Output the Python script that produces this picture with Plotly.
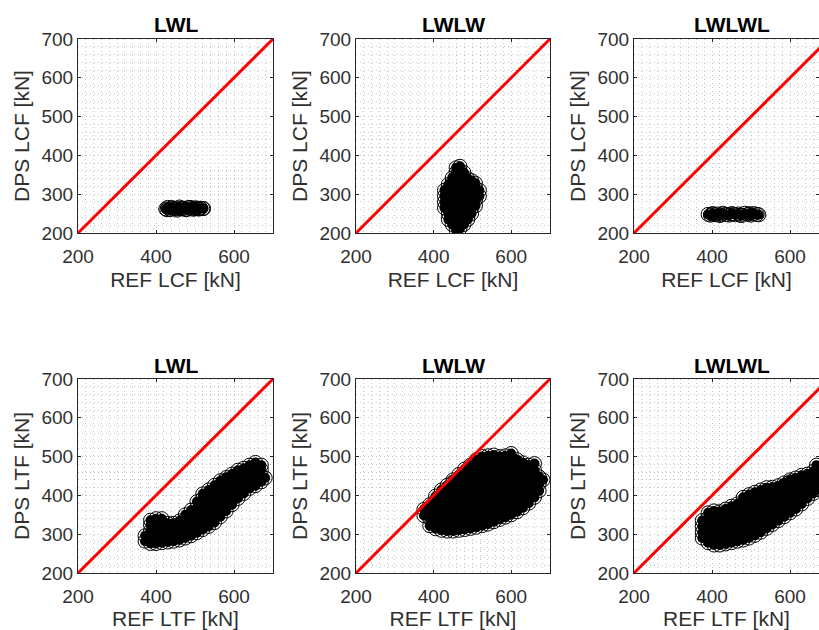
import plotly.graph_objects as go

# ---------------- data ----------------
AX_MIN, AX_MAX = 200, 700
X_TICKS = [200, 400, 600]
Y_TICKS = [200, 300, 400, 500, 600, 700]
TITLES = ["LWL", "LWLW", "LWLWL", "LWL", "LWLW", "LWLWL"]
X_LABELS = ["REF LCF [kN]", "REF LCF [kN]", "REF LCF [kN]",
            "REF LTF [kN]", "REF LTF [kN]", "REF LTF [kN]"]
Y_LABELS = ["DPS LCF [kN]", "DPS LCF [kN]", "DPS LCF [kN]",
            "DPS LTF [kN]", "DPS LTF [kN]", "DPS LTF [kN]"]
REF_LINE = [200, 700]   # y = x reference line end points

# Panel 1: LWL, LCF
LWL_LCF_X = [425, 430, 436, 442, 448, 454, 460, 466, 472, 478, 484, 490, 496,
             502, 508, 514, 520, 428, 440, 452, 464, 476, 488, 500, 512, 522]
LWL_LCF_Y = [262, 266, 260, 265, 263, 259, 267, 262, 264, 260, 266, 263, 261,
             265, 262, 264, 263, 260, 265, 262, 264, 261, 266, 263, 262, 263]

# Panel 2: LWLW, LCF  (x column -> y values)
LWLW_LCF = {
    428: [265, 280, 295, 310],
    438: [235, 250, 265, 280, 295, 310, 325],
    448: [222, 237, 252, 267, 282, 297, 312, 327, 342],
    458: [208, 222, 237, 252, 267, 282, 297, 312, 327, 342, 356, 368],
    468: [212, 225, 240, 255, 270, 285, 300, 315, 330, 345, 360, 372],
    478: [222, 237, 252, 267, 282, 297, 312, 327, 342, 356],
    488: [235, 250, 265, 280, 295, 310, 325, 340],
    498: [250, 265, 280, 295, 310, 325, 335],
    508: [270, 285, 300, 315, 328],
    518: [295, 310],
}

# Panel 3: LWLWL, LCF
LWLWL_LCF_X = [390, 396, 402, 408, 414, 420, 428, 436, 444, 452, 460, 468, 476,
               484, 492, 500, 508, 516, 520, 400, 424, 448, 472, 496]
LWLWL_LCF_Y = [248, 246, 250, 247, 249, 245, 251, 248, 246, 250, 247, 249, 245,
               251, 248, 246, 250, 248, 247, 249, 247, 249, 246, 250]

# Panel 4: LWL, LTF
LWL_LTF = {
    372: [282, 296],
    386: [276, 292, 308, 324, 336],
    400: [276, 292, 308, 324, 340],
    415: [278, 294, 310, 326, 340],
    430: [280, 296, 312, 328],
    445: [282, 298, 314, 328],
    460: [285, 300, 316, 334],
    475: [290, 306, 322, 338, 350],
    490: [296, 312, 328, 344, 362],
    505: [304, 320, 336, 352, 368, 384],
    520: [312, 328, 344, 360, 376, 392, 404],
    535: [320, 336, 352, 368, 384, 400, 414],
    550: [330, 346, 362, 378, 394, 410, 426],
    565: [345, 361, 377, 393, 409, 425, 438],
    580: [360, 376, 392, 408, 424, 440, 446],
    595: [376, 392, 408, 424, 440, 455],
    610: [392, 408, 424, 440, 456, 465],
    625: [405, 421, 437, 453, 470],
    640: [418, 434, 450, 466, 478],
    655: [425, 441, 457, 473, 485],
    670: [435, 450, 466, 478],
    680: [445],
}

# Panel 5: LWLW, LTF
LWLW_LTF = {
    375: [348, 364],
    390: [322, 340, 358, 376],
    405: [314, 332, 350, 368, 386, 398],
    420: [310, 328, 346, 364, 382, 400, 414],
    435: [308, 326, 344, 362, 380, 398, 416, 426],
    450: [308, 326, 344, 362, 380, 398, 416, 434, 440],
    465: [310, 328, 346, 364, 382, 400, 418, 436, 454],
    480: [312, 330, 348, 366, 384, 402, 420, 438, 456, 468],
    495: [315, 333, 351, 369, 387, 405, 423, 441, 459, 478],
    510: [318, 336, 354, 372, 390, 408, 426, 444, 462, 480, 492],
    525: [322, 340, 358, 376, 394, 412, 430, 448, 466, 484, 500],
    540: [326, 344, 362, 380, 398, 416, 434, 452, 470, 488, 502],
    555: [332, 350, 368, 386, 404, 422, 440, 458, 476, 494, 504],
    570: [338, 356, 374, 392, 410, 428, 446, 464, 482, 500],
    585: [344, 362, 380, 398, 416, 434, 452, 470, 488, 502],
    600: [350, 368, 386, 404, 422, 440, 458, 476, 494, 508],
    615: [358, 376, 394, 412, 430, 448, 466, 484, 492],
    630: [368, 386, 404, 422, 440, 458, 476, 484],
    645: [380, 398, 416, 434, 452, 470, 478],
    660: [395, 413, 431, 449, 465, 482],
    672: [412, 430, 448],
    682: [440],
}

# Panel 6: LWLWL, LTF
LWLWL_LTF = {
    375: [290, 305, 320, 335],
    390: [278, 294, 310, 326, 342, 355],
    405: [272, 288, 304, 320, 336, 352, 360],
    420: [272, 288, 304, 320, 336, 352, 358],
    435: [275, 291, 307, 323, 339, 355, 365],
    450: [278, 294, 310, 326, 342, 358, 372],
    465: [282, 298, 314, 330, 346, 362, 378],
    480: [285, 301, 317, 333, 349, 365, 381, 395],
    495: [290, 306, 322, 338, 354, 370, 386, 402],
    510: [297, 313, 329, 345, 361, 377, 393, 408],
    525: [305, 321, 337, 353, 369, 385, 401, 414],
    540: [315, 331, 347, 363, 379, 395, 411, 420],
    555: [325, 341, 357, 373, 389, 405, 421],
    570: [335, 351, 367, 383, 399, 415, 425],
    585: [345, 361, 377, 393, 409, 425, 432],
    600: [355, 371, 387, 403, 419, 435, 440],
    615: [365, 381, 397, 413, 429, 445],
    630: [378, 394, 410, 426, 442, 452],
    645: [392, 408, 424, 440, 455],
    660: [405, 420, 436, 452, 462],
    668: [478],
    672: [415, 430, 446, 462],
}


def cols_to_xy(cols):
    xs, ys = [], []
    for x, yl in cols.items():
        for y in yl:
            xs.append(x)
            ys.append(y)
    return xs, ys


PANELS = [
    (LWL_LCF_X, LWL_LCF_Y),
    cols_to_xy(LWLW_LCF),
    (LWLWL_LCF_X, LWLWL_LCF_Y),
    cols_to_xy(LWL_LTF),
    cols_to_xy(LWLW_LTF),
    cols_to_xy(LWLWL_LTF),
]

# ---------------- layout geometry (pixels) ----------------
W, H = 819, 630
COL_PX = [(78, 273), (356, 550), (634, 829)]   # third column is cut by the page edge
ROW_PX = [(39, 233), (379, 573)]
TITLE_Y_PX = [25, 365]

FONT = "Liberation Sans, Arial, sans-serif"
AXC = "#262626"
TXC = "#303030"
GRIDC = "#c4c4c4"

fig = go.Figure()
layout = dict(
    width=W, height=H,
    margin=dict(l=0, r=0, t=0, b=0, autoexpand=False),
    paper_bgcolor="white", plot_bgcolor="white",
    showlegend=False,
    font=dict(family=FONT, color=AXC),
    annotations=[],
)

for i in range(6):
    r, c = divmod(i, 3)
    xa = "x" if i == 0 else f"x{i+1}"
    ya = "y" if i == 0 else f"y{i+1}"
    x0p, x1p = COL_PX[c]
    y0p, y1p = ROW_PX[r]
    px_per_unit = (x1p - x0p) / (AX_MAX - AX_MIN)
    vis_x1 = min(x1p, W)
    xmax = AX_MIN + (vis_x1 - x0p) / px_per_unit
    xdom = [x0p / W, vis_x1 / W]
    ydom = [1 - y1p / H, 1 - y0p / H]

    xs, ys = PANELS[i]
    # dense cloud of hollow circles
    fig.add_trace(go.Scatter(
        x=xs, y=ys, mode="markers", xaxis=xa, yaxis=ya,
        marker=dict(symbol="circle", size=10, color="black", line=dict(width=0)),
        hoverinfo="skip"))
    fig.add_trace(go.Scatter(
        x=xs, y=ys, mode="markers", xaxis=xa, yaxis=ya,
        marker=dict(symbol="circle-open", size=14, color="black",
                    line=dict(width=1, color="black"))))
    # y = x reference line
    fig.add_trace(go.Scatter(
        x=REF_LINE, y=REF_LINE, mode="lines", xaxis=xa, yaxis=ya,
        line=dict(color="#ff0000", width=3)))

    common = dict(
        automargin=False,
        showline=True, linecolor=AXC, linewidth=1, mirror="ticks",
        ticks="inside", ticklen=3, tickwidth=1, tickcolor=AXC,
        showgrid=True, gridcolor=GRIDC, griddash="1px,3px", gridwidth=1,
        zeroline=False,
        tickfont=dict(family=FONT, size=19, color=TXC),
        minor=dict(dtick=20, showgrid=True, gridcolor=GRIDC,
                   griddash="1px,3px", gridwidth=1, ticks=""),
    )
    layout["xaxis" if i == 0 else f"xaxis{i+1}"] = dict(
        common, domain=xdom, range=[AX_MIN, xmax], tickvals=X_TICKS,
        anchor=ya, ticklabelstandoff=6,
        title=dict(text=X_LABELS[i], standoff=6,
                   font=dict(family=FONT, size=21, color=TXC)))
    layout["yaxis" if i == 0 else f"yaxis{i+1}"] = dict(
        common, domain=ydom, range=[AX_MIN, AX_MAX], tickvals=Y_TICKS,
        anchor=xa,
        title=dict(text=Y_LABELS[i], standoff=6,
                   font=dict(family=FONT, size=21, color=TXC)))
    layout["annotations"].append(dict(
        text=f"<b>{TITLES[i]}</b>", xref="paper", yref="paper",
        x=((x0p + x1p) / 2) / W, y=1 - TITLE_Y_PX[r] / H,
        xanchor="center", yanchor="middle", showarrow=False,
        font=dict(family=FONT, size=21, color="black")))

fig.update_layout(**layout)
fig.write_html("out.html")
